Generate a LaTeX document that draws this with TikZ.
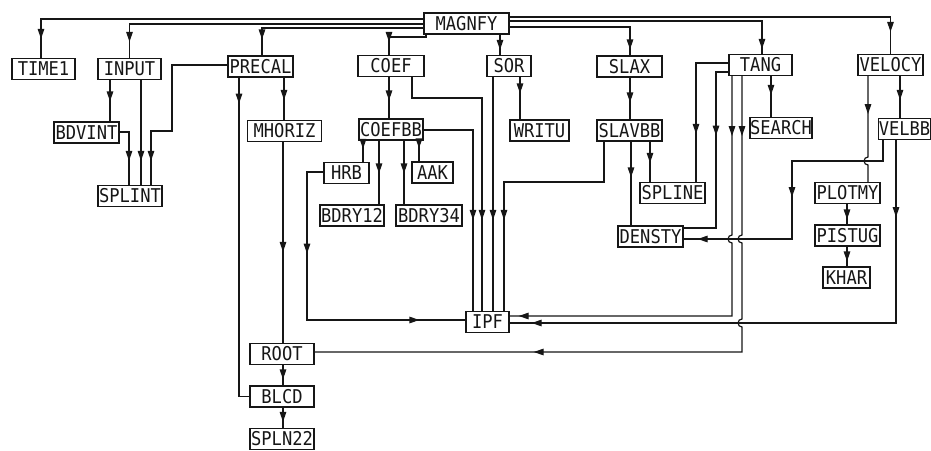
\documentclass[tikz,border=0pt]{standalone}
\usepackage{fontspec}
\newfontfamily\flowfont{DejaVu Sans Mono}[FakeStretch=0.9]
\usetikzlibrary{
  arrows.meta,
  decorations.markings
}
\definecolor{flowInk}{HTML}{161616}
\tikzset{
  flowBox/.style={
    draw=flowInk,
    line width=1.2pt,
    inner sep=0pt,
    minimum height=21pt,
    text=flowInk,
    font=\flowfont\fontsize{19}{19}\selectfont
  },
  flowLine/.style={draw=flowInk, line width=1.2pt},
  flowTip/.tip={Triangle[length=10pt,width=6.5pt]},
  arrowAt/.style={
    postaction={decorate},
    decoration={markings, mark=at position #1pt with {\arrow{flowTip}}}
  },
  arrowTwo/.style 2 args={
    postaction={decorate},
    decoration={markings,
      mark=at position #1pt with {\arrow{flowTip}},
      mark=at position #2pt with {\arrow{flowTip}}}
  }
}

\begin{document}
\begin{tikzpicture}[x=1pt,y=-1pt]
  \useasboundingbox (0,0) rectangle (931,450);
  \foreach \nm/\lbl/\cx/\cy/\w in {
    magnfy/MAGNFY/466.5/23.5/85, time1/TIME1/43.5/69/63,
    input/INPUT/129.5/69/63, precal/PRECAL/260.5/66.5/65,
    coef/COEF/391/66/66, sor/SOR/509/66/44,
    slax/SLAX/629.5/66.5/65, tang/TANG/760.5/65/63,
    velocy/VELOCY/890.5/65/65, bdvint/BDVINT/86.5/132.5/65,
    mhoriz/MHORIZ/284.5/131/74, coefbb/COEFBB/391/129.5/64,
    writu/WRITU/539.5/130.5/59, slavbb/SLAVBB/629.5/130.5/65,
    search/SEARCH/781/128/62, velbb/VELBB/904.5/129/51,
    splint/SPLINT/130/196/64, hrb/HRB/346.5/173/45,
    aak/AAK/432.5/172.5/41, bdry12/BDRY12/352/215.5/64,
    bdry34/BDRY34/429/215.5/66, spline/SPLINE/672.5/193/65,
    densty/DENSTY/650.5/236.5/65, plotmy/PLOTMY/847.5/193/65,
    pistug/PISTUG/847.5/235.5/65, khar/KHAR/846.5/277.5/47,
    ipf/IPF/487.5/322/43, root/ROOT/282/354/64,
    blcd/BLCD/282/396.5/64, spln22/SPLN22/282/439/64} {
    \node[flowBox, minimum width=\w pt] (\nm) at (\cx,\cy) {\lbl};
  }
  \foreach \a/\b/\xx/\dd in {
    input/bdvint/110/20, input/splint/141/24, precal/mhoriz/284/20,
    mhoriz/root/283/91, root/blcd/283/6, blcd/spln22/283/6,
    coef/coefbb/389/18, sor/ipf/493/91, sor/writu/520/26,
    coefbb/hrb/363/13, coefbb/bdry12/379/31, coefbb/bdry34/404/31,
    coefbb/aak/419/13, slax/slavbb/630/17, slavbb/spline/650/19,
    slavbb/densty/631/48, tang/search/771/22, velocy/velbb/900/18,
    plotmy/pistug/847/5, pistug/khar/847/5} {
    \draw[flowLine, arrowAt=-\dd] (\a.south -| \xx,0) -- (\b.north -| \xx,0);
  }
  \draw[flowLine, arrowAt=-19] (magnfy.west |- 0,19) -| (time1.north -| 41,0);
  \draw[flowLine, arrowAt=-16] (magnfy.west |- 0,24) -| (input.north);
  \draw[flowLine, arrowAt=-16] (magnfy.west |- 0,28) -| (precal.north -| 262,0);
  \draw[flowLine, arrowAt=-13] (magnfy.south -| 426,0) -- (426,37)
    -| (coef.north -| 389,0);
  \draw[flowLine, arrowAt=-5] (magnfy.south -| 500,0) -- (sor.north -| 500,0);
  \draw[flowLine, arrowAt=-6] (magnfy.east |- 0,27) -| (slax.north -| 630,0);
  \draw[flowLine, arrowAt=-5] (magnfy.east |- 0,21) -| (tang.north -| 762,0);
  \draw[flowLine, arrowAt=-22] (magnfy.east |- 0,17) -| (velocy.north);
  \draw[flowLine, arrowAt=-24] (bdvint.east |- 0,132) -| (splint.north -| 129,0);
  \draw[flowLine, arrowAt=-24] (precal.west |- 0,65) -| (172,131)
    -| (splint.north -| 151,0);
  \draw[flowLine, arrowAt=26] (precal.south -| 239,0) |- (blcd.west);
  \draw[flowLine, arrowAt=-91] (coef.south -| 412,0) |- (482,98)
    -- (ipf.north -| 482,0);
  \draw[flowLine, arrowAt=-91] (coefbb.east |- 0,130) -| (ipf.north -| 473,0);
  \draw[flowLine, arrowAt=-91] (slavbb.south -| 604,0) |- (504,182)
    -- (ipf.north -| 504,0);
  \draw[flowLine, arrowTwo={98}{-46}] (hrb.west |- 0,172) -| (307,320)
    -- (ipf.west |- 0,320);
  \draw[flowLine, arrowAt=-48] (tang.west |- 0,63) -| (spline.north -| 696,0);
  \draw[flowLine, arrowAt=76] (tang.west |- 0,72) -| (716,228)
    -- (densty.east |- 0,228);
  \draw[flowLine, arrowTwo={60}{-9}] (tang.south -| 732,0) -- (732,235)
    arc[start angle=90, end angle=270, radius=4pt] |- (ipf.east |- 0,316);
  \draw[flowLine, arrowTwo={60}{-219}] (tang.south -| 742,0) -- (742,235)
    arc[start angle=90, end angle=270, radius=4pt] -- (742,319)
    arc[start angle=90, end angle=270, radius=4pt] |- (root.east |- 0,352);
  \draw[flowLine, arrowAt=38] (velocy.south -| 868,0) -- (868,157)
    arc[start angle=90, end angle=270, radius=4pt] -- (plotmy.north -| 868,0);
  \draw[flowLine, arrowTwo={148}{-14}] (velbb.south -| 883,0) |- (792,161)
    |- (densty.east |- 0,239);
  \draw[flowLine, arrowTwo={77}{-22}] (velbb.south -| 896,0)
    |- (ipf.east |- 0,323);
\end{tikzpicture}
\end{document}
